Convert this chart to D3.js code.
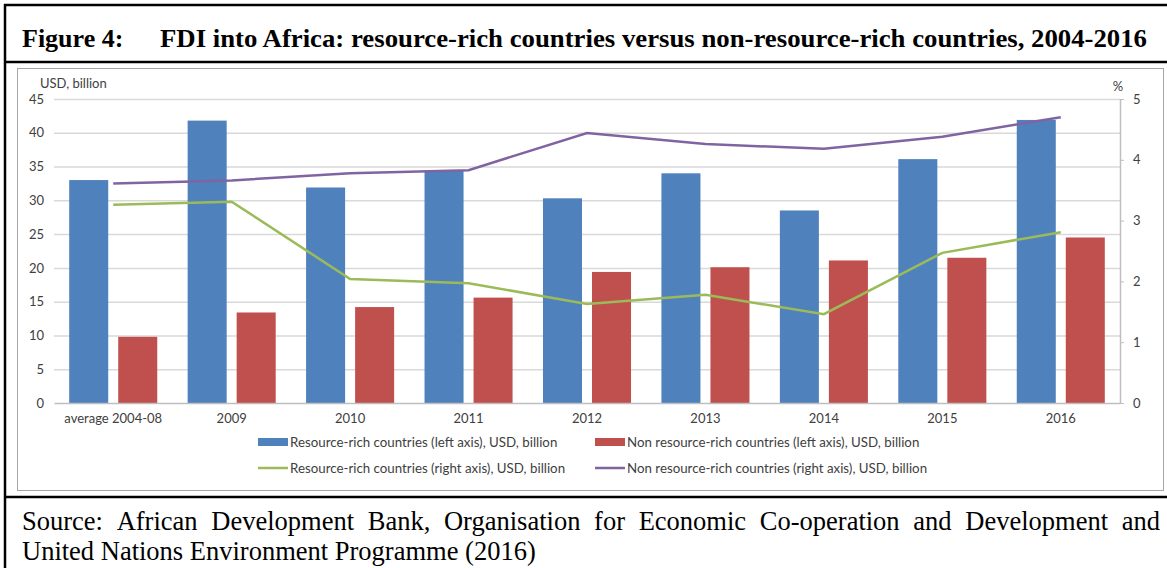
<!DOCTYPE html>
<html>
<head>
<meta charset="utf-8">
<script src="https://cdn.jsdelivr.net/npm/d3@7"></script>
<style>
  html, body { margin: 0; padding: 0; background: #fff; }
  svg { display: block; }
</style>
</head>
<body>
<svg id="chart" width="1167" height="568"></svg>
<script>
const categories = ["average 2004-08", "2009", "2010", "2011", "2012", "2013", "2014", "2015", "2016"];
const resourceRich = [33.0, 41.8, 31.9, 34.4, 30.3, 34.0, 28.5, 36.1, 41.9];
const nonResourceRich = [9.8, 13.4, 14.2, 15.6, 19.4, 20.1, 21.1, 21.5, 24.5];
const resourceRichPct = [3.26, 3.31, 2.04, 1.97, 1.63, 1.78, 1.46, 2.47, 2.81];
const nonResourceRichPct = [3.61, 3.66, 3.78, 3.83, 4.44, 4.26, 4.18, 4.38, 4.70];
const leftTicks = [0, 5, 10, 15, 20, 25, 30, 35, 40, 45];
const rightTicks = [0, 1, 2, 3, 4, 5];
const seriesNames = [
  "Resource-rich countries (left axis), USD, billion",
  "Non resource-rich countries (left axis), USD, billion",
  "Resource-rich countries (right axis), USD, billion",
  "Non resource-rich countries (right axis), USD, billion"
];
const titleLabel = "Figure 4:";
const titleText = "FDI into Africa: resource-rich countries versus non-resource-rich countries, 2004-2016";
const sourceLine1 = "Source: African Development Bank, Organisation for Economic Co-operation and Development and";
const sourceLine2 = "United Nations Environment Programme (2016)";

const colors = { blue: "#4f81bd", red: "#c0504d", green: "#9bbb59", purple: "#8064a2" };
const chartFont = "Lato, 'Open Sans', sans-serif";
const serif = "'Liberation Serif', 'Times New Roman', serif";
const tickSize = 13;
const legendSize = 13.3;

const svg = d3.select("#chart");

// ---- frame ----
const frame = svg.append("g").attr("stroke", "#000").attr("stroke-width", 2.5);
frame.append("line").attr("x1", 5).attr("x2", 5).attr("y1", 4).attr("y2", 568);
frame.append("line").attr("x1", 4).attr("x2", 1167).attr("y1", 5).attr("y2", 5);
frame.append("line").attr("x1", 4).attr("x2", 1167).attr("y1", 62).attr("y2", 62);
frame.append("line").attr("x1", 4).attr("x2", 1167).attr("y1", 497).attr("y2", 497);

// inner chart box
svg.append("rect").attr("x", 17.5).attr("y", 68.5).attr("width", 1146).attr("height", 422)
  .attr("fill", "none").attr("stroke", "#a6a6a6").attr("stroke-width", 1);

// ---- title ----
svg.append("text").attr("x", 22).attr("y", 47)
  .attr("font-family", serif).attr("font-weight", "bold").attr("font-size", 26)
  .text(titleLabel);
svg.append("text").attr("x", 160).attr("y", 47)
  .attr("font-family", serif).attr("font-weight", "bold").attr("font-size", 26)
  .attr("textLength", 987).attr("lengthAdjust", "spacingAndGlyphs")
  .text(titleText);

// ---- source (justified first line) ----
function justifyLine(text, x0, x1, y, size) {
  const words = text.split(" ");
  const g = svg.append("g").attr("font-family", serif).attr("font-size", size);
  const nodes = words.map(w => g.append("text").attr("y", y).text(w));
  const widths = nodes.map(n => n.node().getComputedTextLength());
  const total = d3.sum(widths);
  const gap = (x1 - x0 - total) / (words.length - 1);
  let x = x0;
  nodes.forEach((n, i) => { n.attr("x", x); x += widths[i] + gap; });
}
justifyLine(sourceLine1, 22, 1160, 530, 26.5);
svg.append("text").attr("x", 22).attr("y", 560)
  .attr("font-family", serif).attr("font-size", 26.5)
  .text(sourceLine2);

// ---- chart ----
const plot = { left: 54, right: 1120, top: 99, bottom: 403 };
const x = d3.scaleBand().domain(categories).range([plot.left, plot.right]).paddingInner(0).paddingOuter(0);
const x1 = d3.scaleBand().domain(["rr", "nrr"]).range([0, x.bandwidth()]).paddingInner(0.204).paddingOuter(0.31);
const yL = d3.scaleLinear().domain([0, 45]).range([plot.bottom, plot.top]);
const yR = d3.scaleLinear().domain([0, 5]).range([plot.bottom, plot.top]);

// gridlines
const grid = svg.append("g").attr("transform", `translate(${plot.left},0)`)
  .call(d3.axisLeft(yL).tickValues(leftTicks.filter(t => t > 0)).tickSize(-(plot.right - plot.left)).tickFormat(""));
grid.select(".domain").remove();
grid.selectAll("line").attr("stroke", "#d9d9d9").attr("stroke-width", 1.5);

// left axis labels
const la = svg.append("g").attr("transform", `translate(${plot.left},0)`)
  .call(d3.axisLeft(yL).tickValues(leftTicks).tickSize(0).tickPadding(10));
la.select(".domain").remove();
la.selectAll("text").attr("font-family", chartFont).attr("font-size", tickSize).attr("fill", "#404040");

// bars
const barData = categories.map((c, i) => ({ c, rr: resourceRich[i], nrr: nonResourceRich[i] }));
const bars = svg.append("g");
bars.selectAll("rect.rr").data(barData).join("rect").attr("class", "rr")
  .attr("x", d => x(d.c) + x1("rr")).attr("width", x1.bandwidth())
  .attr("y", d => yL(d.rr)).attr("height", d => yL(0) - yL(d.rr))
  .attr("fill", colors.blue);
bars.selectAll("rect.nrr").data(barData).join("rect").attr("class", "nrr")
  .attr("x", d => x(d.c) + x1("nrr")).attr("width", x1.bandwidth())
  .attr("y", d => yL(d.nrr)).attr("height", d => yL(0) - yL(d.nrr))
  .attr("fill", colors.red);

// x axis
const xa = svg.append("g").attr("transform", `translate(0,${plot.bottom})`)
  .call(d3.axisBottom(x).tickSize(0).tickPadding(11));
xa.select(".domain").attr("stroke", "#bfbfbf").attr("stroke-width", 1.5);
xa.selectAll("text").attr("font-family", chartFont).attr("font-size", tickSize).attr("fill", "#404040");

// right axis
const ra = svg.append("g").attr("transform", `translate(${plot.right},0)`)
  .call(d3.axisRight(yR).tickValues(rightTicks).tickFormat(d3.format("d")).tickSize(4).tickPadding(9).tickSizeOuter(0));
ra.select(".domain").attr("stroke", "#bfbfbf").attr("stroke-width", 1.5);
ra.selectAll("line").attr("stroke", "#bfbfbf");
ra.selectAll("text").attr("font-family", chartFont).attr("font-size", tickSize).attr("fill", "#404040");

// lines
const line = d3.line().x((d, i) => x(categories[i]) + x.bandwidth() / 2).y(d => yR(d));
svg.append("path").datum(resourceRichPct).attr("d", line)
  .attr("fill", "none").attr("stroke", colors.green).attr("stroke-width", 2.5);
svg.append("path").datum(nonResourceRichPct).attr("d", line)
  .attr("fill", "none").attr("stroke", colors.purple).attr("stroke-width", 2.5);

// axis titles
svg.append("text").attr("x", 40).attr("y", 88).attr("font-family", chartFont).attr("font-size", tickSize)
  .attr("fill", "#404040").text("USD, billion");
svg.append("text").attr("x", 1118).attr("y", 91).attr("text-anchor", "middle").attr("font-family", chartFont)
  .attr("font-size", tickSize).attr("fill", "#404040").text("%");

// legend
const legendItems = [
  { name: seriesNames[0], color: colors.blue, type: "rect", x: 258, y: 442 },
  { name: seriesNames[1], color: colors.red, type: "rect", x: 595, y: 442 },
  { name: seriesNames[2], color: colors.green, type: "line", x: 258, y: 468 },
  { name: seriesNames[3], color: colors.purple, type: "line", x: 595, y: 468 }
];
const lg = svg.append("g");
legendItems.forEach(it => {
  if (it.type === "rect") {
    lg.append("rect").attr("x", it.x).attr("y", it.y - 4).attr("width", 30).attr("height", 8).attr("fill", it.color);
  } else {
    lg.append("line").attr("x1", it.x).attr("x2", it.x + 30).attr("y1", it.y).attr("y2", it.y)
      .attr("stroke", it.color).attr("stroke-width", 2.5);
  }
  lg.append("text").attr("x", it.x + 32).attr("y", it.y).attr("dy", "0.35em")
    .attr("font-family", chartFont).attr("font-size", legendSize).attr("fill", "#404040").text(it.name);
});
</script>
</body>
</html>
